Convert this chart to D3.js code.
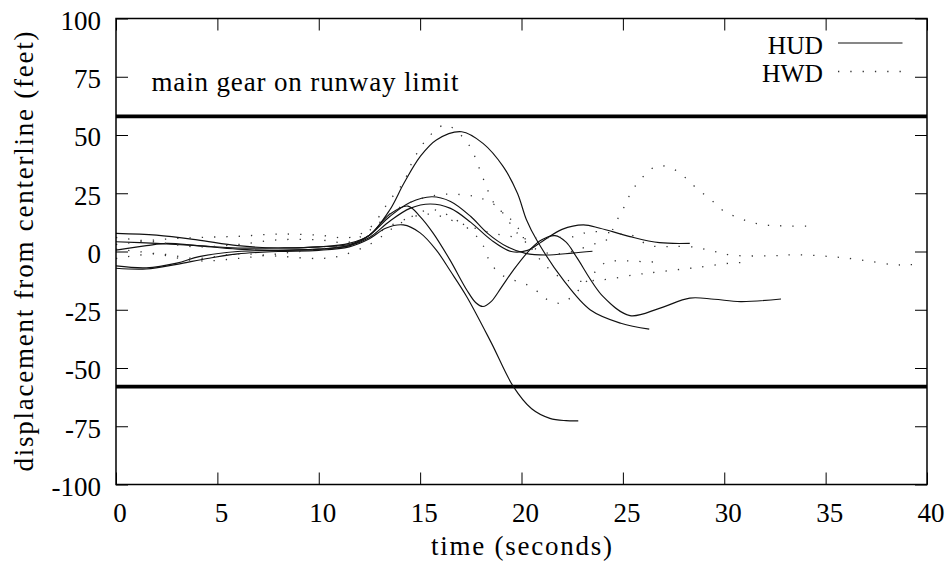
<!DOCTYPE html>
<html>
<head>
<meta charset="utf-8">
<script src="https://cdn.jsdelivr.net/npm/d3@7"></script>
<style>
  body { margin: 0; background: #fff; }
  svg { display: block; }
  text { font-family: "Liberation Serif", "DejaVu Serif", serif; fill: #000; }
</style>
</head>
<body>
<div id="chart"></div>
<script>
// axis setup
const xDomain = [0, 40];
const yDomain = [-100, 100];
const xTicks = [0, 5, 10, 15, 20, 25, 30, 35, 40];
const yTicks = [-100, -75, -50, -25, 0, 25, 50, 75, 100];
const runwayLimit = [58, -58];

// HUD runs: [time (s), displacement (ft)]
const hudRun1 = [[0,4.2],[2,3.5],[4,2.5],[6,1.5],[8,1.5],[10,2],[11.5,3.5],[12.5,7],[13.5,17.8],[14.2,29.3],[15,40.7],[15.8,47.9],[17.05,51.4],[18.1,46.4],[19.1,36.4],[19.8,25],[20.25,13.5],[20.75,4.9],[22.06,-12.2],[23.4,-25.1],[24.9,-30.8],[26.3,-33.3]];
const hudRun2 = [[0,7.8],[2,7],[4,5],[6,2.5],[8,1.5],[10,2],[11.5,3],[12.5,7],[13.5,15],[14.5,21],[15.57,23.5],[16.5,21.5],[17.5,15],[18.3,8],[19.3,2],[20.2,-0.8],[21.2,-1.5],[22.5,-0.7],[23.5,0.1]];
const hudRun3 = [[0,0.6],[1.5,2.5],[2.5,3.5],[4,2.5],[6,1],[8,0.5],[10,1],[11.5,2.5],[12.5,6],[13.5,13],[14.5,18.5],[15.5,20.4],[16.5,18.5],[17.5,12.5],[18.5,5],[19.5,0],[20.3,0.5],[21,4.2],[22,9.5],[23.05,11.4],[23.87,10],[25.35,6.4],[26.8,3.8],[28.3,3.5]];
const hudRun4 = [[0,-6.2],[1.5,-7],[3,-5],[4.1,-2.2],[6,0],[8,0.5],[10,1],[11.5,2.5],[12.5,7],[13.5,16],[14.4,19.5],[15,15],[15.65,7.8],[16.47,-3.6],[17.3,-16.5],[17.75,-22],[18.1,-23.6],[18.5,-21.5],[19,-15.5],[19.6,-8],[20.4,0.6],[21,5],[21.65,6.8],[22.2,4],[22.7,-2.2],[24.03,-19.4],[25.35,-27.5],[26.8,-24.4],[28.3,-20],[29.5,-20.5],[30.8,-21.5],[32.8,-20.4]];
const hudRun5 = [[0,-7.2],[1.5,-7.5],[3,-5.5],[4.5,-3],[6,-1],[8,0],[10,0.5],[11.5,2],[12.5,5.5],[13.3,10],[14.17,11.4],[15,8],[15.8,0.6],[16.5,-8.5],[17.3,-19.4],[18.5,-39],[19.6,-58],[20.5,-67.5],[21.4,-71.6],[22.2,-72.6],[22.8,-72.7]];

// HWD runs
const hwdRun1 = [[0,3],[2,5],[4,6],[6,6.5],[8,7.5],[10,7],[11.5,6],[12.5,10],[13.5,22],[14.2,30],[14.66,39.3],[15.4,49],[16.2,54.3],[16.7,52.4],[17.46,45],[17.95,35],[18.4,25],[18.7,20],[19.2,15.7],[19.6,12.8],[19.9,9.2],[20.6,0],[21.3,-7],[22.2,-12.2],[23.9,-12.2],[25.6,-10],[26.8,-8.7],[28.7,-6.8],[30.5,-4.8],[30.8,-4.8]];
const hwdRun2 = [[0,-3],[2,-1],[4,-3],[6,-1],[8,-2],[10,-3],[11,-2],[12.5,3],[14,12],[15.5,18],[16.5,15],[17.95,4.9],[18.4,-3.6],[18.9,-9.4],[19.6,-12.2],[20.3,-14.4],[20.9,-17.9],[21.3,-20.8],[21.9,-22.2],[22.4,-20],[22.9,-15.8],[23.6,-9],[24.2,-4.5],[24.9,-4],[26.1,-4.4],[26.8,-4.6]];
const hwdRun3 = [[0,6],[2,4],[4,2],[6,3],[8,5],[10,5],[11.5,4],[12.5,9],[14,19],[15.8,24.2],[17.3,24.2],[17.95,23],[18.8,19.2],[19.8,7.8],[20.5,2],[21.5,-1],[22.5,0],[23.5,3],[24.2,5],[24.6,11.4],[24.9,16.7],[25.2,21.2],[25.4,25.7],[25.8,30],[26.2,34],[26.7,36.7],[27.2,36.4],[27.8,33.8],[28.2,30.7],[28.6,27.4],[29.05,24.2],[29.5,21],[29.9,17.8],[30.4,15.5],[30.9,13.8],[31.4,12.4],[32,11.4],[32.6,11.1],[33.3,10.9],[34.1,10.9]];
const hwdRun4 = [[0,1],[2,-1],[4,-4],[6,-3],[8,-1],[10,1],[11.5,3],[12.5,6],[14,13],[15.5,16],[17,12],[18.5,8],[20,6],[21.5,6],[22.6,6.4],[23.2,8.2],[23.7,8.5],[24.9,7.5],[25.4,7.1],[26.2,3],[26.8,2],[27.5,2.2],[28.6,1.8],[29.2,0.6],[29.7,-0.3],[30.3,-1.5],[32.2,-1.9],[33.5,-1.4],[34.8,-1.9],[36,-2.8],[37.2,-4.2],[38.4,-5.7],[39.1,-5.7],[39.7,-5.4]];

const hudRuns = [hudRun1, hudRun2, hudRun3, hudRun4, hudRun5];
const hwdRuns = [hwdRun1, hwdRun2, hwdRun3, hwdRun4];

const width = 950, height = 566;
const margin = { top: 18.5, right: 23, bottom: 81.5, left: 116 };
const innerW = width - margin.left - margin.right;
const innerH = height - margin.top - margin.bottom;
const fontSize = 27;

const svg = d3.select('#chart').append('svg')
    .attr('width', width)
    .attr('height', height);

const g = svg.append('g')
    .attr('transform', `translate(${margin.left},${margin.top})`);

const x = d3.scaleLinear().domain(xDomain).range([0, innerW]);
const y = d3.scaleLinear().domain(yDomain).range([innerH, 0]);

g.append('clipPath').attr('id', 'plot-clip')
  .append('rect')
    .attr('width', innerW)
    .attr('height', innerH);

// ticks point inward on all four sides, labels only on left / bottom
const styleAxis = sel => {
    sel.select('.domain').remove();
    sel.selectAll('.tick line').attr('stroke', '#000').attr('stroke-width', 1);
    sel.selectAll('.tick text')
        .attr('font-size', fontSize)
        .style('font-family', '"Liberation Serif", serif');
};

g.append('g')
    .call(d3.axisLeft(y).tickValues(yTicks).tickSizeInner(-12).tickSizeOuter(0)
        .tickPadding(15).tickFormat(d => String(d)))
    .call(styleAxis)
    .call(s => s.selectAll('.tick text').attr('dy', '0.4em'));

g.append('g')
    .attr('transform', `translate(${innerW},0)`)
    .call(d3.axisRight(y).tickValues(yTicks).tickSizeInner(-12).tickSizeOuter(0).tickFormat(''))
    .call(styleAxis);

g.append('g')
    .attr('transform', `translate(0,${innerH})`)
    .call(d3.axisBottom(x).tickValues(xTicks).tickSizeInner(-12).tickSizeOuter(0)
        .tickPadding(37).tickFormat(d => String(d)))
    .call(styleAxis)
    .call(s => s.selectAll('.tick text').attr('dy', '0').attr('dx', 3.5));

g.append('g')
    .call(d3.axisTop(x).tickValues(xTicks).tickSizeInner(-12).tickSizeOuter(0).tickFormat(''))
    .call(styleAxis);

// runway limit lines
g.selectAll('.limit')
    .data(runwayLimit)
    .enter().append('line')
    .attr('class', 'limit')
    .attr('x1', 0)
    .attr('x2', innerW)
    .attr('y1', d => y(d))
    .attr('y2', d => y(d))
    .attr('stroke', '#000')
    .attr('stroke-width', 3.6);

const line = d3.line()
    .x(d => x(d[0]))
    .y(d => y(d[1]))
    .curve(d3.curveCatmullRom.alpha(0.5));

const plot = g.append('g').attr('clip-path', 'url(#plot-clip)');

plot.selectAll('.hud')
    .data(hudRuns)
    .enter().append('path')
    .attr('class', 'hud')
    .attr('d', line)
    .attr('fill', 'none')
    .attr('stroke', '#111')
    .attr('stroke-width', 1.15);

plot.selectAll('.hwd')
    .data(hwdRuns)
    .enter().append('path')
    .attr('class', 'hwd')
    .attr('d', line)
    .attr('fill', 'none')
    .attr('stroke', '#333')
    .attr('stroke-width', 1.3)
    .attr('stroke-dasharray', '1.3,11');

// frame
g.append('rect')
    .attr('width', innerW)
    .attr('height', innerH)
    .attr('fill', 'none')
    .attr('stroke', '#000')
    .attr('stroke-width', 1.5);

// annotation
g.append('text')
    .attr('x', x(1.75))
    .attr('y', 72.5)
    .attr('font-size', fontSize)
    .attr('textLength', 307)
    .attr('lengthAdjust', 'spacing')
    .text('main gear on runway limit');

// legend
const legend = [
    { label: 'HUD', dash: null },
    { label: 'HWD', dash: '1.3,11' }
];
const lg = g.append('g').attr('transform', `translate(${innerW - 104},0)`);
legend.forEach((d, i) => {
    const row = lg.append('g').attr('transform', `translate(0,${24.5 + i * 28.5})`);
    row.append('line')
        .attr('x1', 15).attr('x2', 79.5)
        .attr('y1', 0).attr('y2', 0)
        .attr('stroke', d.dash ? '#333' : '#111')
        .attr('stroke-width', d.dash ? 1.3 : 1.15)
        .attr('stroke-dasharray', d.dash);
    row.append('text')
        .attr('x', 0)
        .attr('y', 10.5)
        .attr('text-anchor', 'end')
        .attr('font-size', 25.5)
        .text(d.label);
});

// axis titles
svg.append('text')
    .attr('x', margin.left + innerW / 2)
    .attr('y', 555)
    .attr('text-anchor', 'middle')
    .attr('font-size', fontSize)
    .attr('textLength', 181)
    .attr('lengthAdjust', 'spacing')
    .text('time (seconds)');

svg.append('text')
    .attr('transform', `translate(33,${margin.top + innerH / 2}) rotate(-90)`)
    .attr('text-anchor', 'middle')
    .attr('font-size', fontSize)
    .attr('textLength', 440)
    .attr('lengthAdjust', 'spacing')
    .text('displacement from centerline (feet)');
</script>
</body>
</html>
